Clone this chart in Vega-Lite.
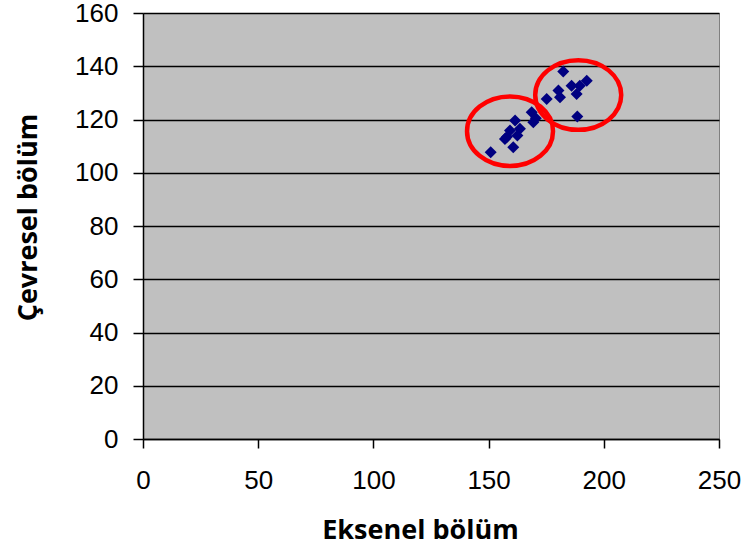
{
  "$schema": "https://vega.github.io/schema/vega-lite/v6.json",
  "autosize": "none",
  "width": 576,
  "height": 426,
  "padding": {"left": 143, "top": 13, "right": 26, "bottom": 115},
  "background": "white",
  "config": {
    "view": {"fill": "#C0C0C0", "stroke": "#808080", "strokeWidth": 1}
  },
  "datasets": {
    "points": [
      {"eksenel": 150.9, "cevresel": 107.7},
      {"eksenel": 157.1, "cevresel": 112.7},
      {"eksenel": 160.7, "cevresel": 109.6},
      {"eksenel": 159.3, "cevresel": 115.9},
      {"eksenel": 158.0, "cevresel": 113.5},
      {"eksenel": 161.5, "cevresel": 119.6},
      {"eksenel": 163.6, "cevresel": 116.5},
      {"eksenel": 162.5, "cevresel": 114.0},
      {"eksenel": 169.4, "cevresel": 119.0},
      {"eksenel": 168.7, "cevresel": 122.7},
      {"eksenel": 170.5, "cevresel": 120.5},
      {"eksenel": 175.2, "cevresel": 127.7},
      {"eksenel": 180.3, "cevresel": 130.9},
      {"eksenel": 181.0, "cevresel": 128.4},
      {"eksenel": 182.4, "cevresel": 138.0},
      {"eksenel": 186.0, "cevresel": 132.7},
      {"eksenel": 188.2, "cevresel": 129.6},
      {"eksenel": 189.6, "cevresel": 132.7},
      {"eksenel": 192.6, "cevresel": 134.6},
      {"eksenel": 188.5, "cevresel": 121.1}
    ],
    "groups": [
      {"eksenel": 159.3, "cevresel": 115.6},
      {"eksenel": 188.9, "cevresel": 129.2}
    ]
  },
  "layer": [
    {
      "data": {"name": "points"},
      "mark": {"type": "point", "shape": "diamond", "filled": true, "color": "#000080", "opacity": 1, "size": 144},
      "encoding": {
        "x": {
          "field": "eksenel", "type": "quantitative",
          "scale": {"domain": [0, 250], "nice": false},
          "axis": {
            "title": "Eksenel bölüm",
            "values": [0, 50, 100, 150, 200, 250],
            "grid": false,
            "domainColor": "black", "domainWidth": 1.5,
            "tickColor": "black", "tickSize": 9, "tickWidth": 1.5,
            "labelFont": "Liberation Sans", "labelFontSize": 26, "labelColor": "black",
            "labelPadding": 19, "labelFlush": false,
            "titleFont": "Open Sans", "titleFontWeight": "bold", "titleFontSize": 27, "titleColor": "black",
            "titlePadding": 24, "titleX": 277
          }
        },
        "y": {
          "field": "cevresel", "type": "quantitative",
          "scale": {"domain": [0, 160], "nice": false},
          "axis": {
            "title": "Çevresel bölüm",
            "values": [0, 20, 40, 60, 80, 100, 120, 140, 160],
            "grid": true, "gridColor": "black", "gridWidth": 1.5, "gridOpacity": 1,
            "domainColor": "black", "domainWidth": 1.5,
            "tickColor": "black", "tickSize": 10, "tickWidth": 1.5,
            "labelFont": "Liberation Sans", "labelFontSize": 26, "labelColor": "black",
            "labelPadding": 15, "labelFlush": false,
            "titleFont": "Open Sans", "titleFontWeight": "bold", "titleFontSize": 27, "titleColor": "black",
            "titlePadding": 32, "titleY": 204
          }
        }
      }
    },
    {
      "data": {"name": "groups"},
      "mark": {
        "type": "point",
        "shape": "M -1 0 A 1 0.81 0 1 0 1 0 A 1 0.81 0 1 0 -1 0 Z",
        "filled": false,
        "stroke": "#FF0000",
        "strokeWidth": 4.5,
        "opacity": 1,
        "size": 7396
      },
      "encoding": {
        "x": {"field": "eksenel", "type": "quantitative"},
        "y": {"field": "cevresel", "type": "quantitative"}
      }
    }
  ]
}
